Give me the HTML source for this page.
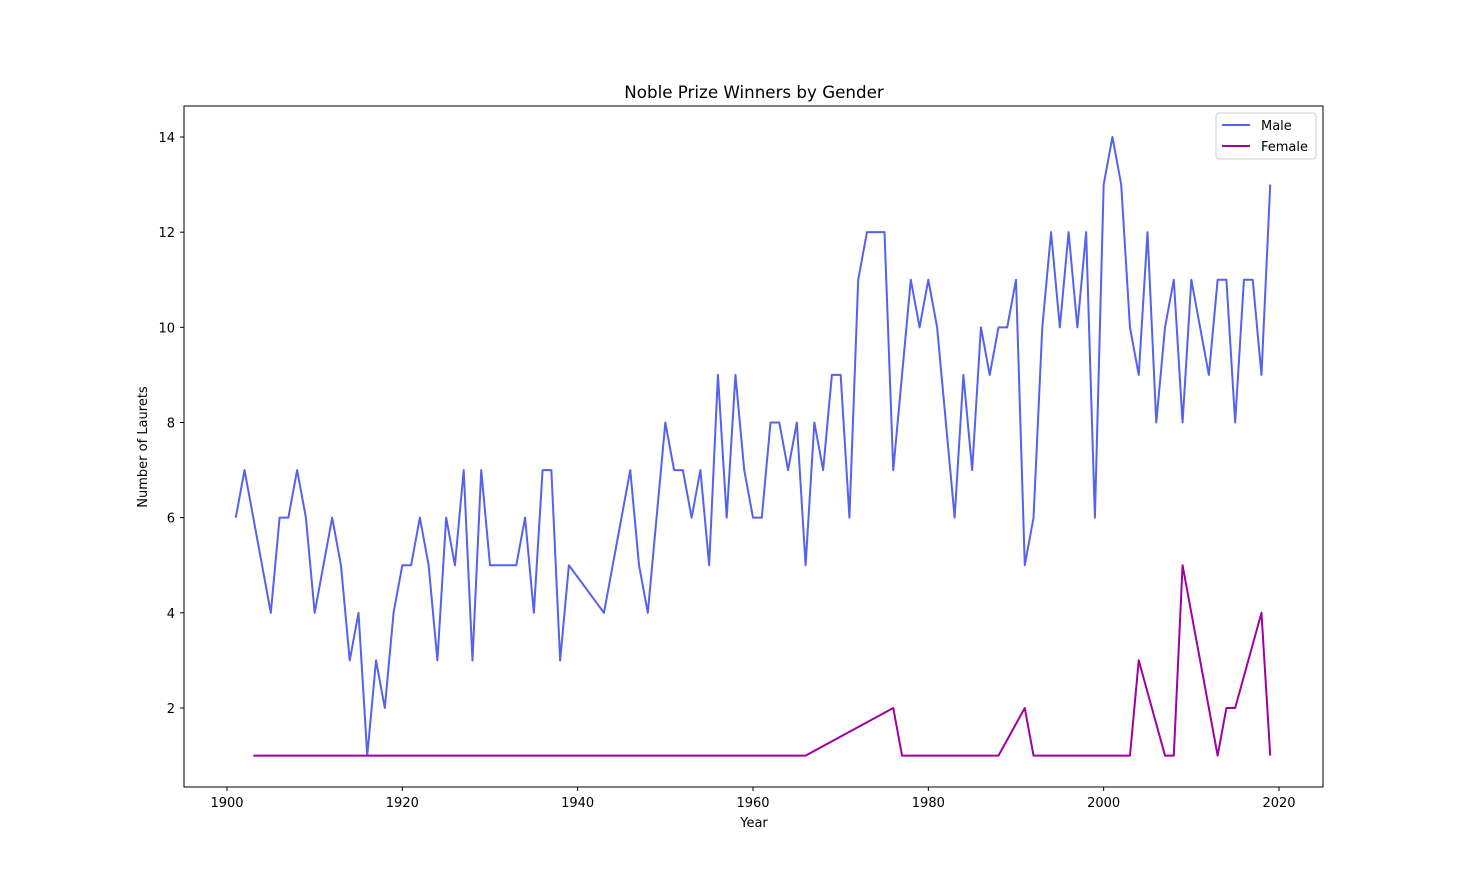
<!DOCTYPE html>
<html><head><meta charset="utf-8"><style>
body{margin:0;background:#fff}
svg{display:block;font-family:"DejaVu Sans","Liberation Sans",sans-serif}
</style></head><body>
<svg id="chart" width="1470" height="884" xmlns="http://www.w3.org/2000/svg">
<rect width="1470" height="884" fill="#fff"/>
<text x="754" y="98" text-anchor="middle" font-size="16.7">Noble Prize Winners by Gender</text>
<text x="754" y="827" text-anchor="middle" font-size="13">Year</text>
<text transform="translate(147,447) rotate(-90)" text-anchor="middle" font-size="13">Number of Laurets</text>
<g id="ticks"></g>
<g id="lines"></g>
<rect x="184" y="106" width="1139" height="681" fill="none" stroke="#000" stroke-width="1"/>
<g>
<rect x="1216" y="113" width="100" height="46" rx="3" fill="#fff" stroke="#ccc"/>
<g><line x1="1222" y1="125" x2="1250" y2="125" stroke="#5561f0" stroke-width="2"/><text x="1261" y="130" font-size="13">Male</text></g>
<g><line x1="1222" y1="146" x2="1250" y2="146" stroke="#a000a0" stroke-width="2"/><text x="1261" y="151" font-size="13">Female</text></g>
</g>
</svg>
<script>
const maleYears=[1901,1902,1905,1906,1907,1908,1909,1910,1912,1913,1914,1915,1916,1917,1918,1919,1920,1921,1922,1923,1924,1925,1926,1927,1928,1929,1930,1933,1934,1935,1936,1937,1938,1939,1943,1946,1947,1948,1950,1951,1952,1953,1954,1955,1956,1957,1958,1959,1960,1961,1962,1963,1964,1965,1966,1967,1968,1969,1970,1971,1972,1973,1975,1976,1978,1979,1980,1981,1983,1984,1985,1986,1987,1988,1989,1990,1991,1992,1993,1994,1995,1996,1997,1998,1999,2000,2001,2002,2003,2004,2005,2006,2007,2008,2009,2010,2012,2013,2014,2015,2016,2017,2018,2019];
const maleValues=[6,7,4,6,6,7,6,4,6,5,3,4,1,3,2,4,5,5,6,5,3,6,5,7,3,7,5,5,6,4,7,7,3,5,4,7,5,4,8,7,7,6,7,5,9,6,9,7,6,6,8,8,7,8,5,8,7,9,9,6,11,12,12,7,11,10,11,10,6,9,7,10,9,10,10,11,5,6,10,12,10,12,10,12,6,13,14,13,10,9,12,8,10,11,8,11,9,11,11,8,11,11,9,13];
const femaleYears=[1903,1966,1976,1977,1988,1991,1992,2003,2004,2007,2008,2009,2013,2014,2015,2018,2019];
const femaleValues=[1,1,2,1,1,2,1,1,3,1,1,5,1,2,2,4,1];
const xTicks=[1900,1920,1940,1960,1980,2000,2020];
const yTicks=[2,4,6,8,10,12,14];
const NS="http://www.w3.org/2000/svg";
function xs(y){return 227+(y-1900)*(1279-227)/120;}
function ys(v){return 708-(v-2)*(708-137)/12;}
const tg=document.getElementById('ticks');
xTicks.forEach(t=>{
 const l=document.createElementNS(NS,'line');
 
 
 l.setAttribute('x1',xs(t));l.setAttribute('x2',xs(t));l.setAttribute('y1',787);l.setAttribute('y2',791);l.setAttribute('stroke','#000');
 tg.appendChild(l);
 const tx=document.createElementNS(NS,'text');
 
 
 tx.setAttribute('x',xs(t));tx.setAttribute('y',807);tx.setAttribute('text-anchor','middle');tx.setAttribute('font-size','13');
 tx.textContent=t;tg.appendChild(tx);
});
yTicks.forEach(t=>{
 const l=document.createElementNS(NS,'line');
 
 
 l.setAttribute('x1',180);l.setAttribute('x2',184);l.setAttribute('y1',ys(t));l.setAttribute('y2',ys(t));l.setAttribute('stroke','#000');
 tg.appendChild(l);
 const tx=document.createElementNS(NS,'text');
 
 
 tx.setAttribute('x',175);tx.setAttribute('y',ys(t)+5);tx.setAttribute('text-anchor','end');tx.setAttribute('font-size','13');
 tx.textContent=t;tg.appendChild(tx);
});
const lg=document.getElementById('lines');
function draw(years,vals,color,name){
 const p=document.createElementNS(NS,'polyline');
 
 
 p.setAttribute('points',years.map((y,i)=>xs(y)+','+ys(vals[i])).join(' '));
 p.setAttribute('fill','none');p.setAttribute('stroke',color);p.setAttribute('stroke-width','2');p.setAttribute('stroke-linejoin','round');
 lg.appendChild(p);
}
draw(maleYears,maleValues,'#5561f0','male-line');
draw(femaleYears,femaleValues,'#a000a0','female-line');
</script>
</body></html>
